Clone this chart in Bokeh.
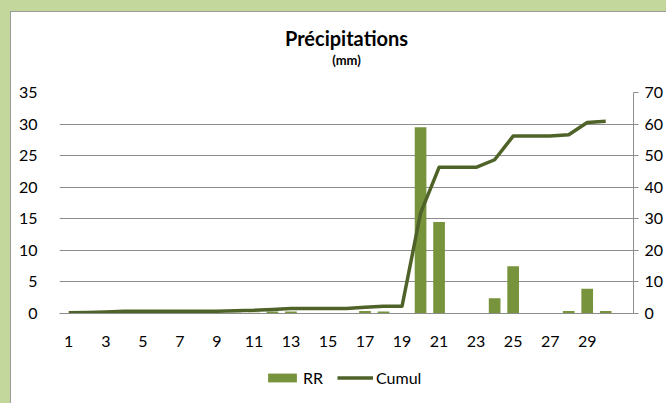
from bokeh.plotting import figure
from bokeh.layouts import column
from bokeh.models import (Range1d, LinearAxis, FixedTicker, Legend, LegendItem,
                          Title, GlobalInlineStyleSheet)
from bokeh.embed import file_html
from bokeh.resources import INLINE

# ---- data ----
days = list(range(1, 31))
rr = [0.0, 0.1, 0.1, 0.1, 0.0, 0.0, 0.0, 0.0, 0.0, 0.1,
      0.1, 0.3, 0.3, 0.0, 0.0, 0.0, 0.4, 0.3, 0.0, 29.5,
      14.5, 0.0, 0.0, 2.4, 7.5, 0.0, 0.0, 0.4, 3.9, 0.4]
cumul = [0.2, 0.3, 0.5, 0.7, 0.7, 0.7, 0.7, 0.7, 0.7, 0.9,
         1.0, 1.3, 1.6, 1.6, 1.6, 1.6, 2.0, 2.3, 2.3, 31.8,
         46.3, 46.3, 46.3, 48.7, 56.2, 56.2, 56.2, 56.6, 60.5, 60.9]
x_ticks = list(range(1, 30, 2))
left_ticks = [0, 5, 10, 15, 20, 25, 30, 35]
right_ticks = [0, 10, 20, 30, 40, 50, 60, 70]
series_names = ["RR", "Cumul"]

BAR = "#77933c"
LINE = "#4f6228"
GRID = "#8c8c8c"
FONT = "Lato"
W = 655

page_css = GlobalInlineStyleSheet(
    css="html,body{margin:0;} body{padding:11px 0 0 10px;background-color:#c3d69b;}")

p = figure(width=W, height=338, output_backend="svg", toolbar_location=None,
           x_range=Range1d(0.5, 31.5), y_range=Range1d(0, 35),
           title=None, min_border_left=48, min_border_right=0,
           min_border_top=80, min_border_bottom=37,
           background_fill_color="white", border_fill_color="white")
p.outline_line_color = None
p.stylesheets = [page_css]

p.extra_y_ranges = {"cum": Range1d(0, 70)}

# titles: first added sits nearest the frame
p.add_layout(Title(text=" ", text_font_size="1px", standoff=22), "above")
p.add_layout(Title(text="(mm)", align="center", text_font=FONT,
                   text_font_size="13px", text_font_style="bold",
                   text_color="black", standoff=0), "above")
p.add_layout(Title(text="Précipitations", align="center", text_font=FONT,
                   text_font_size="20px", text_font_style="bold",
                   text_color="black", standoff=0), "above")

p.vbar(x=days, top=rr, width=0.63, color=BAR, line_color=None)
p.line(x=days, y=cumul, line_color=LINE, line_width=3.5,
       y_range_name="cum", line_join="round")

# axes
p.xaxis.ticker = FixedTicker(ticks=x_ticks)
p.xaxis.major_tick_line_color = None
p.xaxis.minor_tick_line_color = None
p.xaxis.axis_line_color = GRID
p.xaxis.major_label_standoff = 16
p.xaxis.major_label_text_font = FONT
p.xaxis.major_label_text_font_size = "16px"
p.xaxis.major_label_text_color = "black"

p.yaxis.ticker = FixedTicker(ticks=left_ticks)
p.yaxis.major_tick_line_color = None
p.yaxis.minor_tick_line_color = None
p.yaxis.axis_line_color = None
p.yaxis.major_label_standoff = 16
p.yaxis.major_label_text_font = FONT
p.yaxis.major_label_text_font_size = "16px"
p.yaxis.major_label_text_color = "black"

ra = LinearAxis(y_range_name="cum", ticker=FixedTicker(ticks=right_ticks))
ra.axis_line_color = GRID
ra.major_tick_line_color = GRID
ra.major_tick_out = 5
ra.major_tick_in = 0
ra.minor_tick_line_color = None
ra.major_label_standoff = 6
ra.major_label_text_font = FONT
ra.major_label_text_font_size = "16px"
ra.major_label_text_color = "black"
p.add_layout(ra, "right")

p.xgrid.grid_line_color = None
p.ygrid.grid_line_color = GRID
p.ygrid.ticker = FixedTicker(ticks=left_ticks)

# legend strip below the chart (swatches drawn from off-range samples)
lg = figure(width=W, height=53, output_backend="svg", toolbar_location=None,
            x_range=Range1d(0, 1), y_range=Range1d(0, 1),
            x_axis_type=None, y_axis_type=None,
            min_border=0, background_fill_color="white",
            border_fill_color="white")
lg.outline_line_color = None
rb = lg.vbar(x=[5], top=[5], bottom=[4], width=0.5, color=BAR, line_color=None)
rl = lg.line(x=[5, 6], y=[5, 5], line_color=LINE, line_width=3.5)
legend = Legend(items=[LegendItem(label=series_names[0], renderers=[rb]),
                       LegendItem(label=series_names[1], renderers=[rl])],
                orientation="horizontal", location=(205, 16),
                label_text_font=FONT, label_text_font_size="16px",
                label_text_color="black", glyph_width=36, glyph_height=11,
                label_standoff=3, spacing=14, padding=4, margin=0,
                border_line_color=None, background_fill_alpha=0)
lg.add_layout(legend, "center")

layout = column(p, lg, spacing=0,
                styles={"background-color": "white",
                        "border-left": "1px solid #9a9a9a",
                        "border-top": "1px solid #9a9a9a"})
open("out.html", "w").write(file_html(layout, INLINE))
